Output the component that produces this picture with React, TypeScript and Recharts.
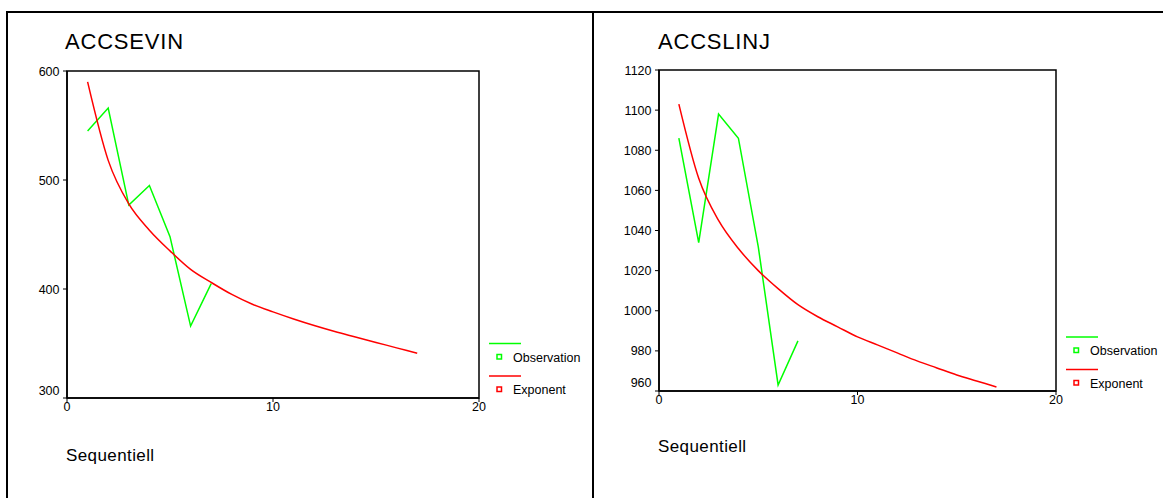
import { LineChart, Line, XAxis, YAxis, ReferenceArea } from 'recharts';

// sequence index shared by both panels
const seq = [1, 2, 3, 4, 5, 6, 7, 8, 9, 10, 11, 12, 13, 14, 15, 16, 17];

// ACCSEVIN
const sevinObs = [545, 566, 477, 495, 448, 366, 405];
const sevinExp = [590, 518, 478, 454, 435, 418, 406, 395, 386, 379, 372.5, 366.5, 361, 356, 351, 346, 341];
const sevinTicks = [300, 400, 500, 600];

// ACCSLINJ
const linjObs = [1086, 1034, 1098, 1086, 1032, 963, 985];
const linjExp = [1103, 1066, 1045, 1031, 1020, 1011, 1003, 997, 992, 987, 983, 979, 975, 971.5, 968, 965, 962];
const linjTicks = [960, 980, 1000, 1020, 1040, 1060, 1080, 1100, 1120];

const xTicks = [0, 10, 20];

const FONT = '"Liberation Sans", Arial, sans-serif';
const GREEN = '#00ff00';
const RED = '#ff0000';

function buildRows(obs: number[], exp: number[]) {
  return seq.map((x, i) => ({ x, obs: i < obs.length ? obs[i] : null, exp: exp[i] }));
}

function makeYTick(bottom: number, lift: number) {
  return (props: any) => {
    const { x, y, payload } = props;
    const dy = payload.value === bottom ? -lift : 0;
    return (
      <text x={x} y={y + dy} dy="0.36em" textAnchor="end" fontSize={12.5} fontFamily={FONT} fill="#000">
        {payload.value}
      </text>
    );
  };
}

interface PanelProps {
  left: number;
  width: number;
  margin: { top: number; right: number; bottom: number; left: number };
  rows: { x: number; obs: number | null; exp: number }[];
  yTicks: number[];
  lift: number;
}

function Panel({ left, width, margin, rows, yTicks, lift }: PanelProps) {
  const lo = yTicks[0];
  const hi = yTicks[yTicks.length - 1];
  return (
    <div style={{ position: 'absolute', left, top: 0 }}>
      <LineChart width={width} height={498} data={rows} margin={margin}>
        <XAxis
          dataKey="x"
          type="number"
          domain={[0, 20]}
          ticks={xTicks}
          allowDataOverflow
          height={20}
          tickSize={4}
          tickMargin={0}
          axisLine={{ stroke: '#000', strokeWidth: 1.5 }}
          tickLine={{ stroke: '#000' }}
          tick={{ fontSize: 12.5, fontFamily: FONT, fill: '#000' }}
        />
        <YAxis
          type="number"
          domain={[lo, hi]}
          ticks={yTicks}
          allowDataOverflow
          width={40}
          tickSize={4}
          tickMargin={3.5}
          axisLine={{ stroke: '#000', strokeWidth: 1.5 }}
          tickLine={{ stroke: '#000' }}
          tick={makeYTick(lo, lift)}
        />
        <ReferenceArea x1={0} x2={20} y1={lo} y2={hi} fill="none" stroke="#000" strokeWidth={1.5} />
        <Line
          type="linear"
          dataKey="obs"
          stroke={GREEN}
          strokeWidth={1.5}
          dot={false}
          isAnimationActive={false}
        />
        <Line
          type="monotone"
          dataKey="exp"
          stroke={RED}
          strokeWidth={1.5}
          dot={false}
          isAnimationActive={false}
        />
      </LineChart>
    </div>
  );
}

function LegendBlock({ x, y }: { x: number; y: number }) {
  const items = [
    { label: 'Observation', color: GREEN, dy: 0 },
    { label: 'Exponent', color: RED, dy: 32.5 },
  ];
  return (
    <g>
      {items.map((it) => (
        <g key={it.label}>
          <line x1={x} x2={x + 32} y1={y + it.dy} y2={y + it.dy} stroke={it.color} strokeWidth={1.5} />
          <rect x={x + 8} y={y + it.dy + 11} width={4.5} height={4.5} fill="none" stroke={it.color} strokeWidth={1.5} />
          <text x={x + 24} y={y + it.dy + 18} fontSize={12.5} fontFamily={FONT} fill="#000">
            {it.label}
          </text>
        </g>
      ))}
    </g>
  );
}

export default function App() {
  return (
    <div style={{ position: 'absolute', left: 0, top: 0, width: 1163, height: 498, background: '#fff', overflow: 'hidden' }}>
      <Panel
        left={0}
        width={593}
        margin={{ top: 71, right: 114, bottom: 80, left: 27 }}
        rows={buildRows(sevinObs, sevinExp)}
        yTicks={sevinTicks}
        lift={7.5}
      />
      <Panel
        left={593}
        width={570}
        margin={{ top: 70, right: 107, bottom: 87, left: 26 }}
        rows={buildRows(linjObs, linjExp)}
        yTicks={linjTicks}
        lift={9}
      />
      <svg width={1163} height={498} style={{ position: 'absolute', left: 0, top: 0, pointerEvents: 'none' }}>
        <line x1={7} x2={1163} y1={12} y2={12} stroke="#000" strokeWidth={2} />
        <line x1={7} x2={7} y1={11} y2={498} stroke="#000" strokeWidth={2} />
        <line x1={593} x2={593} y1={11} y2={498} stroke="#000" strokeWidth={2} />

        <text x={65} y={48.5} fontSize={22} letterSpacing={0.8} fontFamily={FONT} fill="#000">ACCSEVIN</text>
        <text x={658} y={48.5} fontSize={22} letterSpacing={0.8} fontFamily={FONT} fill="#000">ACCSLINJ</text>

        <text x={66} y={460.5} fontSize={17} letterSpacing={0.4} fontFamily={FONT} fill="#000">Sequentiell</text>
        <text x={658} y={451.5} fontSize={17} letterSpacing={0.4} fontFamily={FONT} fill="#000">Sequentiell</text>

        <LegendBlock x={489} y={343.5} />
        <LegendBlock x={1066} y={337} />
      </svg>
    </div>
  );
}
